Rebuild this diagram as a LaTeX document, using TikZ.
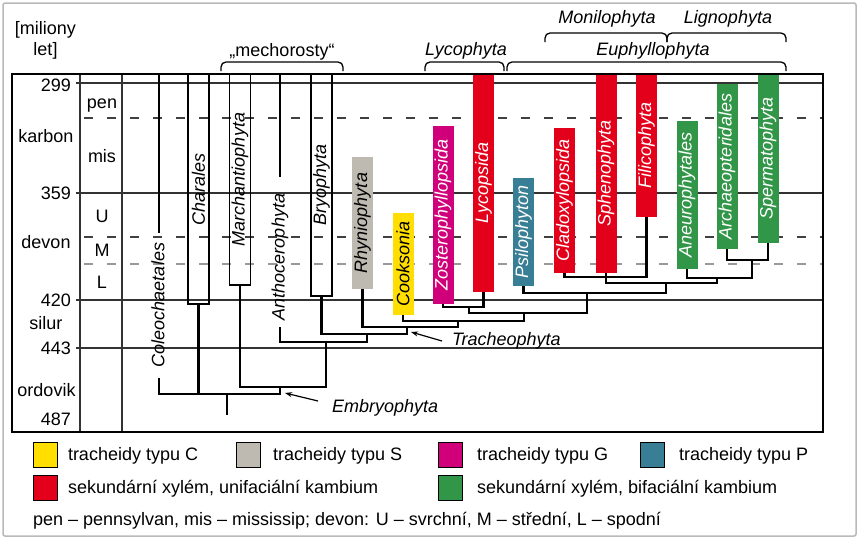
\documentclass[tikz,border=0pt]{standalone}
\usepackage{fontspec}
\setmainfont{Liberation Sans}
\usetikzlibrary{arrows.meta}
\definecolor{yC}{RGB}{255,222,0}
\definecolor{gS}{RGB}{190,186,178}
\definecolor{mG}{RGB}{208,0,122}
\definecolor{tP}{RGB}{56,126,148}
\definecolor{rU}{RGB}{226,0,26}
\definecolor{gB}{RGB}{50,150,72}
\begin{document}
\begin{tikzpicture}[x=1pt,y=-1pt,
 every node/.style={inner sep=0pt,outer sep=0pt,font=\fontsize{18}{21}\selectfont},
 itx/.style={font=\fontsize{18}{21}\selectfont\itshape},
 gridline/.style={line width=1.1pt,draw=black!80},
 dashdark/.style={line width=1.1pt,draw=black!75,dash pattern=on 9pt off 14pt},
 dashlight/.style={line width=1.1pt,draw=black!40,dash pattern=on 9pt off 14pt},
 treeline/.style={line width=2.2pt,draw=black},
 barbox/.style={minimum width=21pt,anchor=north,draw=none},
 openbox/.style={minimum width=21pt,anchor=north,draw=black,line width=1.8pt},
 barlabel/.style={rotate=90,font=\fontsize{18}{21}\selectfont\itshape},
 bracketline/.style={line width=1.3pt,rounded corners=5pt},
 legbox/.style={draw=black,line width=1pt,minimum width=24pt,minimum height=25pt},
 arr/.style={line width=1.2pt,-{Stealth[length=7pt,width=5pt]}}
]
\useasboundingbox (0,0) rectangle (860,541);
\fill[white] (0,0) rectangle (860,541);
\draw[gray!55,line width=1.5pt,rounded corners=2pt] (3,3) rectangle (856,536);

% header
\node[align=center,font=\fontsize{18}{21}\selectfont] (unit) at (45.5,40) {[miliony\\let]};
\node[anchor=base] (hMech) at (282,56) {„mechorosty“};
\node[itx,anchor=base] (hLyc) at (466,55) {Lycophyta};
\node[itx,anchor=base] (hEu) at (653,55) {Euphyllophyta};
\node[itx,anchor=base] (hMon) at (607,23) {Monilophyta};
\node[itx,anchor=base] (hLig) at (728,23) {Lignophyta};
\draw[bracketline] (221,71) -- (221,62) -- (343,62) -- (343,71);
\draw[bracketline] (425,71) -- (425,62) -- (504,62) -- (504,71);
\draw[bracketline] (507,71) -- (507,62) -- (786,62) -- (786,71);
\draw[bracketline] (545,42) -- (545,33) -- (667,33) -- (667,42);
\draw[bracketline] (667,42) -- (667,33) -- (786,33) -- (786,42);

% grid
\foreach \yy in {83,193,300,348} \draw[gridline] (76,\yy) -- (823,\yy);
\draw[gridline] (80,74) -- (80,432);
\draw[gridline] (122,74) -- (122,432);
\draw[dashdark] (84,118) -- (823,118);
\draw[dashdark] (84,237) -- (823,237);
\draw[dashlight] (84,264) -- (823,264);

% time labels
\node[anchor=base east] (n299) at (71,91.5) {299};
\node[anchor=base east] (n359) at (71,199.5) {359};
\node[anchor=base east] (n420) at (71,306) {420};
\node[anchor=base east] (n443) at (71,354) {443};
\node[anchor=base east] (n487) at (71,425) {487};
\node[anchor=base] (pKar) at (46,142) {karbon};
\node[anchor=base] (pDev) at (46,248) {devon};
\node[anchor=base] (pSil) at (46,329) {silur};
\node[anchor=base] (pOrd) at (46.5,396) {ordovik};
\node[anchor=base] (sPen) at (102,108) {pen};
\node[anchor=base] (sMis) at (102,162) {mis};
\node[anchor=base] (sU) at (102,222.5) {U};
\node[anchor=base] (sM) at (102,256) {M};
\node[anchor=base] (sL) at (102,288) {L};

% bars
\node[barbox,fill=gS,minimum height=132pt] (rhyn) at (362.5,157) {};
\node[barbox,fill=yC,minimum height=102pt] (cook) at (403,213) {};
\node[barbox,fill=mG,minimum height=178pt] (zost) at (443,126) {};
\node[barbox,fill=rU,minimum height=218pt] (lyco) at (483.5,74) {};
\node[barbox,fill=tP,minimum height=108pt] (psil) at (523.5,178) {};
\node[barbox,fill=rU,minimum height=145pt] (clad) at (564.5,128) {};
\node[barbox,fill=rU,minimum height=199pt] (sphe) at (606,74) {};
\node[barbox,fill=rU,minimum height=143pt] (fili) at (646.5,74) {};
\node[barbox,fill=gB,minimum height=148pt] (aneu) at (687,121) {};
\node[barbox,fill=gB,minimum height=165pt] (arch) at (727,84) {};
\node[barbox,fill=gB,minimum height=169pt] (sper) at (768,74) {};
\node[openbox,minimum height=230pt] (char) at (198.5,74) {};
\node[openbox,minimum height=211pt] (marc) at (240,74) {};
\node[openbox,minimum height=222pt] (bryo) at (321.5,74) {};

\node[barlabel] (tRhyn) at (rhyn.center) {Rhyniophyta};
\node[barlabel] (tCook) at (cook.center) {Cooksonia};
\node[barlabel,text=white] (tZost) at (zost.center) {Zosterophyllopsida};
\node[barlabel,text=white] (tLyco) at (lyco.center) {Lycopsida};
\node[barlabel,text=white] (tPsil) at (psil.center) {Psilophyton};
\node[barlabel,text=white] (tClad) at (clad.center) {Cladoxylopsida};
\node[barlabel,text=white] (tSphe) at (sphe.center) {Sphenophyta};
\node[barlabel,text=white] (tFili) at (fili.center) {Filicophyta};
\node[barlabel,text=white] (tAneu) at (aneu.center) {Aneurophytales};
\node[barlabel,text=white] (tArch) at (arch.center) {Archaeopteridales};
\node[barlabel,text=white] (tSper) at (sper.center) {Spermatophyta};
\node[barlabel] (tChar) at (char.center) {Charales};
\node[barlabel] (tMarc) at (marc.center) {Marchantiophyta};
\node[barlabel] (tBryo) at (bryo.center) {Bryophyta};
\node[barlabel] (tCole) at (158,305) {Coleochaetales};
\node[barlabel] (tAnth) at (280,257) {Anthocerophyta};

% chart frame
\draw[line width=1.5pt] (12,74) rectangle (823,432);

% single lines
\coordinate (coleTop) at (159,74);
\coordinate (coleEnd) at (159,233);
\coordinate (anthTop) at (280,74);
\coordinate (anthEnd) at (280,177);
\draw[line width=2pt] (coleTop) -- (coleEnd);
\draw[line width=2pt] (anthTop) -- (anthEnd);

% tree
\coordinate (jAS) at (752,260);
\coordinate (jLig) at (717,278);
\coordinate (jMon) at (606,277);
\coordinate (jEu) at (666,283);
\coordinate (jPs) at (587,293);
\coordinate (jLy) at (469,307);
\coordinate (jT1) at (524,313);
\coordinate (jT2) at (458,321);
\coordinate (jT3) at (407,327);
\coordinate (jB) at (367,334);
\coordinate (jA) at (326,342);
\coordinate (jE) at (280,387);
\coordinate (jR) at (227,394);
\coordinate (anthStub) at (280,327);
\coordinate (coleStub) at (159,378);
\coordinate (rootEnd) at (227,415);
\begin{scope}[treeline]
\draw (arch.south) |- (jAS) -| (sper.south);
\draw (aneu.south) |- (jLig) -| (jAS);
\draw (clad.south) |- (jMon) -| (fili.south);
\draw (sphe.south) |- (jEu) -| (jLig);
\draw (psil.south) |- (jPs) -| (jEu);
\draw (zost.south) |- (jLy) -| (lyco.south);
\draw (jLy) |- (jT1) -| (jPs);
\draw (cook.south) |- (jT2) -| (jT1);
\draw (rhyn.south) |- (jT3) -| (jT2);
\draw (bryo.south) |- (jB) -| (jT3);
\draw (anthStub) |- (jA) -| (jB);
\draw (marc.south) |- (jE) -| (jA);
\draw (coleStub) |- (jR) -| (jE);
\draw (char.south) -- (char.south |- jR);
\draw (jR) -- (rootEnd);
\end{scope}

% arrows
\coordinate (trTail) at (442,341);
\coordinate (trTip) at (411,332);
\coordinate (emTail) at (318,401);
\coordinate (emTip) at (285,393);
\draw[arr] (trTail) -- (trTip);
\draw[arr] (emTail) -- (emTip);
\node[itx,anchor=base west] (lTr) at (452,345) {Tracheophyta};
\node[itx,anchor=base west] (lEm) at (332,412) {Embryophyta};

% legend
\node[legbox,fill=yC] (kC) at (45,454.5) {};
\node[legbox,fill=gS] (kS) at (248.5,454.5) {};
\node[legbox,fill=mG] (kG) at (450,454.5) {};
\node[legbox,fill=tP] (kP) at (652,454.5) {};
\node[legbox,fill=rU] (kU) at (45,488) {};
\node[legbox,fill=gB] (kB) at (450,488) {};
\node[anchor=base west] (lC) at (68,460) {tracheidy typu C};
\node[anchor=base west] (lS) at (273,460) {tracheidy typu S};
\node[anchor=base west] (lG) at (477,460) {tracheidy typu G};
\node[anchor=base west] (lP) at (679,460) {tracheidy typu P};
\node[anchor=base west] (lU) at (68,493.5) {sekundární xylém, unifaciální kambium};
\node[anchor=base west] (lB) at (477,493.5) {sekundární xylém, bifaciální kambium};
\node[anchor=base west] (lF) at (33,525.5) {pen -- pennsylvan, mis -- mississip; devon: U -- svrchní, M -- střední, L -- spodní};
\end{tikzpicture}
\end{document}
